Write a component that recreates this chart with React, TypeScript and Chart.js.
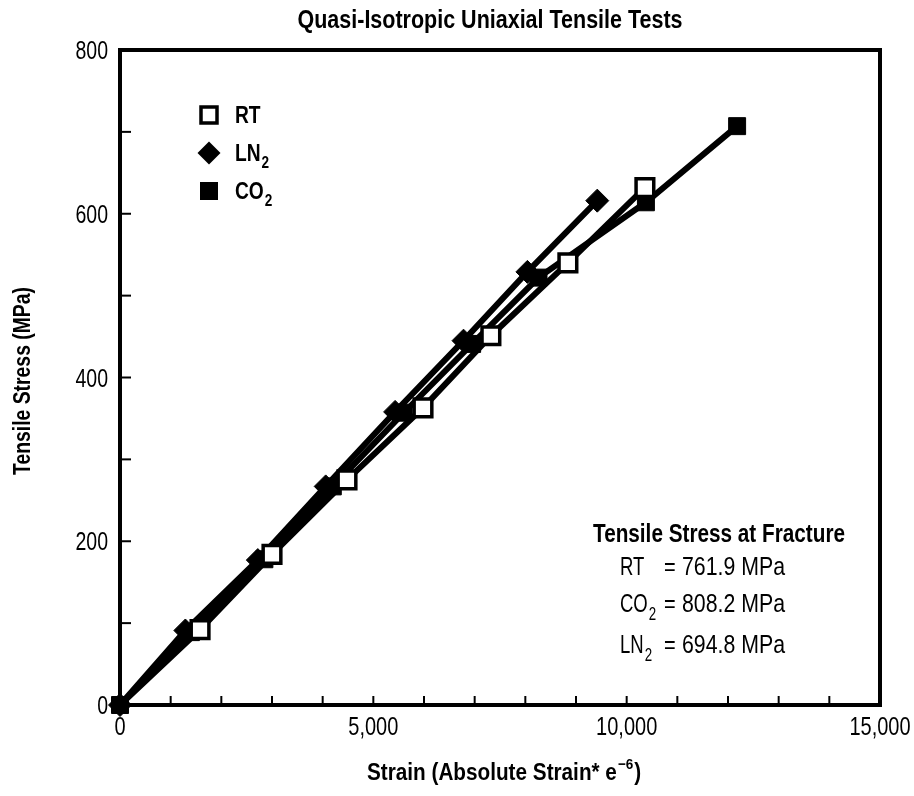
import React, { useEffect, useRef } from "react";
import { Chart, registerables } from "chart.js";

Chart.register(...registerables);

const rtStrain = [0, 1580, 3000, 4480, 5980, 7320, 8840, 10360];
const rtStress = [0, 92, 184, 275, 363, 451, 540, 632];
const ln2Strain = [0, 1290, 2720, 4060, 5430, 6780, 8040, 9420];
const ln2Stress = [0, 91, 177, 267, 358, 445, 529, 616];
const co2Strain = [0, 1400, 2850, 4200, 5600, 6950, 8260, 10380, 12180];
const co2Stress = [0, 89, 178, 267, 357, 441, 522, 614, 707];

const xTickValues = [0, 5000, 10000, 15000];
const xTickLabels = ["0", "5,000", "10,000", "15,000"];
const yTickValues = [0, 200, 400, 600, 800];
const yTickLabels = ["0", "200", "400", "600", "800"];

const titleText = "Quasi-Isotropic Uniaxial Tensile Tests";
const yTitle = "Tensile Stress (MPa)";
const xTitleMain = "Strain (Absolute Strain* e";
const xTitleSup = "\u22126";
const legendNames = [["RT", ""], ["LN", "2"], ["CO", "2"]];
const fractureTitle = "Tensile Stress at Fracture";
const fractureNames = [["RT", ""], ["CO", "2"], ["LN", "2"]];
const fractureValues = ["761.9 MPa", "808.2 MPa", "694.8 MPa"];

const FONT = '"Liberation Sans", Arial, Helvetica, sans-serif';
const SQ = 0.8;

const pts = (xs: number[], ys: number[]) => xs.map((x, i) => ({ x, y: ys[i] }));

const cText = (
  ctx: CanvasRenderingContext2D,
  text: string,
  x: number,
  y: number,
  font: string,
  sx: number,
  align: "left" | "center" | "right" = "left",
  baseline: CanvasTextBaseline = "alphabetic"
) => {
  ctx.font = font;
  const w = ctx.measureText(text).width * sx;
  let x0 = x;
  if (align === "center") x0 = x - w / 2;
  if (align === "right") x0 = x - w;
  ctx.save();
  ctx.translate(x0, y);
  ctx.scale(sx, 1);
  ctx.textAlign = "left";
  ctx.textBaseline = baseline;
  ctx.fillText(text, 0, 0);
  ctx.restore();
  return w;
};

const fitScale = (ctx: CanvasRenderingContext2D, text: string, font: string, target: number) => {
  ctx.font = font;
  return target / ctx.measureText(text).width;
};

const drawSub = (ctx: CanvasRenderingContext2D, x: number, y: number, main: string, sub: string, size: number, bold: boolean, sq = SQ) => {
  const b = bold ? "bold " : "";
  let w = cText(ctx, main, x, y, `${b}${size}px ${FONT}`, sq);
  if (sub) {
    w += 1;
    w += cText(ctx, sub, x + w, y + size * 0.3, `${b}${Math.round(size * 0.72)}px ${FONT}`, sq);
  }
  return w;
};

const decorPlugin = {
  id: "decor",
  afterDraw(chart: any) {
    const ctx: CanvasRenderingContext2D = chart.ctx;
    const { left, right, top, bottom } = chart.chartArea;
    const xs = chart.scales.x;
    const ys = chart.scales.y;
    ctx.save();
    ctx.fillStyle = "#000";
    ctx.strokeStyle = "#000";
    ctx.lineWidth = 4;
    ctx.strokeRect(left, top, right - left, bottom - top);
    ctx.lineWidth = 2;
    for (let v = 1000; v < 15000; v += 1000) {
      const px = xs.getPixelForValue(v);
      ctx.beginPath();
      ctx.moveTo(px, bottom);
      ctx.lineTo(px, bottom - 9);
      ctx.stroke();
    }
    for (let v = 100; v < 800; v += 100) {
      const py = ys.getPixelForValue(v);
      ctx.beginPath();
      ctx.moveTo(left, py);
      ctx.lineTo(left + 11, py);
      ctx.stroke();
    }
    const tf = `25px ${FONT}`;
    xTickValues.forEach((v, i) => {
      cText(ctx, xTickLabels[i], xs.getPixelForValue(v), 735, tf, SQ, "center");
    });
    yTickValues.forEach((v, i) => {
      cText(ctx, yTickLabels[i], 108, ys.getPixelForValue(v) + 9, tf, 0.78, "right");
    });
    const titleFont = `bold 26px ${FONT}`;
    cText(ctx, titleText, 490, 28, titleFont, fitScale(ctx, titleText, titleFont, 385), "center");
    ctx.save();
    ctx.translate(24, 381);
    ctx.rotate(-Math.PI / 2);
    const ytf = `bold 23px ${FONT}`;
    cText(ctx, yTitle, 0, 0, ytf, fitScale(ctx, yTitle, ytf, 188), "center", "middle");
    ctx.restore();
    const xtf = `bold 23px ${FONT}`;
    const supf = `bold 15px ${FONT}`;
    ctx.font = xtf;
    const rawMain = ctx.measureText(xTitleMain).width;
    const rawClose = ctx.measureText(")").width;
    ctx.font = supf;
    const rawSup = ctx.measureText(xTitleSup).width;
    const xs2 = 274 / (rawMain + rawClose + rawSup + 2);
    let cx = 367;
    cx += cText(ctx, xTitleMain, cx, 780, xtf, xs2);
    cx += 1;
    cx += cText(ctx, xTitleSup, cx, 769, supf, xs2);
    cx += 1;
    cText(ctx, ")", cx, 780, xtf, xs2);
    const lx = 209;
    const lys = [115, 153, 191];
    ctx.lineWidth = 3.5;
    ctx.fillStyle = "#fff";
    ctx.fillRect(lx - 8, lys[0] - 8, 16, 16);
    ctx.strokeRect(lx - 8, lys[0] - 8, 16, 16);
    ctx.fillStyle = "#000";
    ctx.beginPath();
    ctx.moveTo(lx, lys[1] - 11.5);
    ctx.lineTo(lx + 11.5, lys[1]);
    ctx.lineTo(lx, lys[1] + 11.5);
    ctx.lineTo(lx - 11.5, lys[1]);
    ctx.closePath();
    ctx.fill();
    ctx.fillRect(lx - 9, lys[2] - 9, 18, 18);
    legendNames.forEach((n, i) => {
      drawSub(ctx, 235, lys[i] + 8, n[0], n[1], 24, true);
    });
    const ff = `bold 26px ${FONT}`;
    cText(ctx, fractureTitle, 593, 542, ff, fitScale(ctx, fractureTitle, ff, 252));
    const rowY = [575, 612, 653];
    const vf = `25px ${FONT}`;
    fractureNames.forEach((n, i) => {
      drawSub(ctx, 620, rowY[i], n[0], n[1], 25, false, 0.74);
      cText(ctx, "=", 664, rowY[i], vf, SQ);
      cText(ctx, fractureValues[i], 785, rowY[i], vf, fitScale(ctx, fractureValues[i], vf, 103), "right");
    });
    ctx.restore();
  },
};

export default function App() {
  const ref = useRef<HTMLCanvasElement>(null);
  useEffect(() => {
    if (!ref.current) return;
    const common = {
      borderColor: "#000",
      borderWidth: 6,
      pointBorderColor: "#000",
      showLine: true,
      tension: 0,
      clip: false,
    };
    const chart = new Chart(ref.current, {
      type: "scatter",
      data: {
        datasets: [
          {
            ...common,
            label: "RT",
            data: pts(rtStrain, rtStress),
            pointStyle: "rect",
            pointRadius: (c: any) => (c.dataIndex === 0 ? 0 : 12.5),
            pointBackgroundColor: "#fff",
            pointBorderWidth: 3.5,
          },
          {
            ...common,
            label: "LN2",
            data: pts(ln2Strain, ln2Stress),
            pointStyle: "rectRot",
            pointRadius: 11.5,
            pointBackgroundColor: "#000",
            pointBorderWidth: 1,
          },
          {
            ...common,
            label: "CO2",
            data: pts(co2Strain, co2Stress),
            pointStyle: "rect",
            pointRadius: 12,
            pointBackgroundColor: "#000",
            pointBorderWidth: 1,
          },
        ],
      },
      plugins: [decorPlugin],
      options: {
        animation: false,
        responsive: false,
        events: [],
        layout: { padding: { left: 0, top: 50, right: 34, bottom: 0 } },
        plugins: { legend: { display: false }, tooltip: { enabled: false }, title: { display: false } },
        scales: {
          x: {
            type: "linear",
            min: 0,
            max: 15000,
            afterFit: (s: any) => { s.height = 91; s.paddingLeft = 0; s.paddingRight = 0; },
            grid: { display: false },
            border: { display: false },
            ticks: { display: false },
          },
          y: {
            type: "linear",
            min: 0,
            max: 800,
            afterFit: (s: any) => { s.width = 120; s.paddingTop = 0; s.paddingBottom = 0; },
            grid: { display: false },
            border: { display: false },
            ticks: { display: false },
          },
        },
      },
    } as any);
    return () => chart.destroy();
  }, []);
  return (
    <div style={{ position: "fixed", left: 0, top: 0, width: 914, height: 796, background: "#fff" }}>
      <canvas ref={ref} width={914} height={796} style={{ width: 914, height: 796 }} />
    </div>
  );
}
